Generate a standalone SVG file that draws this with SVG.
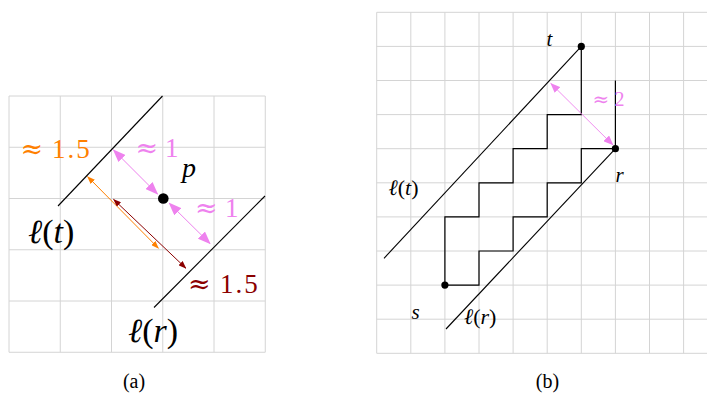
<svg xmlns="http://www.w3.org/2000/svg" width="707" height="394" viewBox="0 0 707 394">
<style>
.grid{stroke:#d4d4d4;stroke-width:1;fill:none}
.ln{stroke:#000;stroke-width:1.1;fill:none}
.stair{stroke:#000;stroke-width:1.2;fill:none}
text{font-family:"Liberation Serif","Times New Roman",serif;fill:#000}
.i{font-style:italic}
.ap{font-family:"DejaVu Serif","Liberation Serif",serif}
.vio{fill:#ee82ee}
.org{fill:#ff8000}
.dr{fill:#8b0000}
</style>
<defs>
<marker id="hv" viewBox="0 0 13 10" markerUnits="userSpaceOnUse" markerWidth="13" markerHeight="10" refX="12" refY="5" orient="auto-start-reverse"><path d="M0,0 L13,5 L0,10 z" fill="#ee82ee"/></marker>
<marker id="hv2" viewBox="0 0 10 8" markerUnits="userSpaceOnUse" markerWidth="10" markerHeight="8" refX="9.5" refY="4" orient="auto-start-reverse"><path d="M0,0 L10,4 L0,8 z" fill="#ee82ee"/></marker>
<marker id="ho" viewBox="0 0 8 6" markerUnits="userSpaceOnUse" markerWidth="8" markerHeight="6" refX="7.5" refY="3" orient="auto-start-reverse"><path d="M0,0 L8,3 L0,6 z" fill="#ff8000"/></marker>
<marker id="hr" viewBox="0 0 8 6" markerUnits="userSpaceOnUse" markerWidth="8" markerHeight="6" refX="7.5" refY="3" orient="auto-start-reverse"><path d="M0,0 L8,3 L0,6 z" fill="#8b0000"/></marker>
</defs>

<g id="grid-a">
<path class="grid" d="M9,96 V352.25 M60.25,96 V352.25 M111.5,96 V352.25 M162.75,96 V352.25 M214,96 V352.25 M265.25,96 V352.25 M9,96 H265.25 M9,147.25 H265.25 M9,198.5 H265.25 M9,249.75 H265.25 M9,301 H265.25 M9,352.25 H265.25"/>
</g>

<g id="grid-b">
<path class="grid" d="M376.7,12.3 V353.3 M410.8,12.3 V353.3 M444.9,12.3 V353.3 M479,12.3 V353.3 M513.1,12.3 V353.3 M547.2,12.3 V353.3 M581.3,12.3 V353.3 M615.4,12.3 V353.3 M649.5,12.3 V353.3 M683.6,12.3 V353.3 M376.7,12.3 H707 M376.7,46.4 H707 M376.7,80.5 H707 M376.7,114.6 H707 M376.7,148.7 H707 M376.7,182.8 H707 M376.7,216.9 H707 M376.7,251 H707 M376.7,285.1 H707 M376.7,319.2 H707 M376.7,353.3 H707"/>
</g>

<g id="connectors">
<line id="lt-a" class="ln" x1="58" y1="206" x2="162.5" y2="96"/>
<line id="lr-a" class="ln" x1="154" y1="307.5" x2="265" y2="196"/>
<line x1="113.5" y1="150" x2="157.5" y2="194" stroke="#ee82ee" stroke-width="1" marker-start="url(#hv)" marker-end="url(#hv)"/>
<line x1="169.3" y1="203.3" x2="210" y2="243.5" stroke="#ee82ee" stroke-width="1" marker-start="url(#hv)" marker-end="url(#hv)"/>
<line x1="87.5" y1="176.5" x2="158.5" y2="248.3" stroke="#ff8000" stroke-width="1" marker-start="url(#ho)" marker-end="url(#ho)"/>
<line x1="113.5" y1="199.3" x2="186" y2="268.3" stroke="#8b0000" stroke-width="1" marker-start="url(#hr)" marker-end="url(#hr)"/>
<line id="lt-b" class="ln" x1="384" y1="258.3" x2="581.3" y2="46.4" stroke-width="0.9"/>
<line id="lr-b" class="ln" x1="446" y1="329" x2="615.4" y2="148.7" stroke-width="0.9"/>
<path class="stair" d="M444.9,285.1 V216.9 H479 V182.8 H513.1 V148.7 H547.2 V114.6 H581.3 V46.4"/>
<path class="stair" d="M444.9,285.1 H479 V251 H513.1 V216.9 H547.2 V182.8 H581.3 V148.7 H615.4"/>
<path class="stair" d="M615.4,148.7 V80.5"/>
<line x1="550.7" y1="83.3" x2="613" y2="145" stroke="#ee82ee" stroke-width="0.9" marker-start="url(#hv2)" marker-end="url(#hv2)"/>
</g>

<g id="node-p">
<circle cx="163.3" cy="198.5" r="5.3" fill="#000"/>
<text class="i" x="182" y="176.7" font-size="28">p</text>
</g>
<g id="label-lt-a"><text x="28" y="242.5" font-size="34"><tspan class="i">ℓ</tspan>(<tspan class="i">t</tspan>)</text></g>
<g id="label-lr-a"><text x="128" y="342" font-size="34"><tspan class="i">ℓ</tspan>(<tspan class="i">r</tspan>)</text></g>
<g id="label-orange"><text class="org" y="158.3" font-size="27"><tspan class="ap" x="20.5">≈</tspan><tspan x="52" letter-spacing="2">1.5</tspan></text></g>
<g id="label-v1"><text class="vio" y="156.7" font-size="27"><tspan class="ap" x="135.5">≈</tspan><tspan x="165">1</tspan></text></g>
<g id="label-v2"><text class="vio" y="217.3" font-size="27"><tspan class="ap" x="195">≈</tspan><tspan x="225">1</tspan></text></g>
<g id="label-darkred"><text class="dr" y="292.8" font-size="27"><tspan class="ap" x="188">≈</tspan><tspan x="220" letter-spacing="2">1.5</tspan></text></g>
<g id="caption-a"><text x="134" y="387.5" font-size="20" text-anchor="middle">(a)</text></g>

<g id="node-t">
<circle cx="581.3" cy="46.4" r="3.6" fill="#000"/>
<text class="i" x="546.5" y="45.7" font-size="21">t</text>
</g>
<g id="node-r">
<circle cx="615.4" cy="148.7" r="3.6" fill="#000"/>
<text class="i" x="615.5" y="182.3" font-size="21">r</text>
</g>
<g id="node-s">
<circle cx="444.9" cy="285.1" r="3.6" fill="#000"/>
<text class="i" x="411.5" y="319.3" font-size="21">s</text>
</g>
<g id="label-lt-b"><text x="388.5" y="195" font-size="22"><tspan class="i">ℓ</tspan>(<tspan class="i">t</tspan>)</text></g>
<g id="label-lr-b"><text x="464" y="324" font-size="22"><tspan class="i">ℓ</tspan>(<tspan class="i">r</tspan>)</text></g>
<g id="label-v3"><text class="vio" y="105.7" font-size="20"><tspan class="ap" x="592.5">≈</tspan><tspan x="614.5">2</tspan></text></g>
<g id="caption-b"><text x="547.5" y="387.5" font-size="20" text-anchor="middle">(b)</text></g>
</svg>
